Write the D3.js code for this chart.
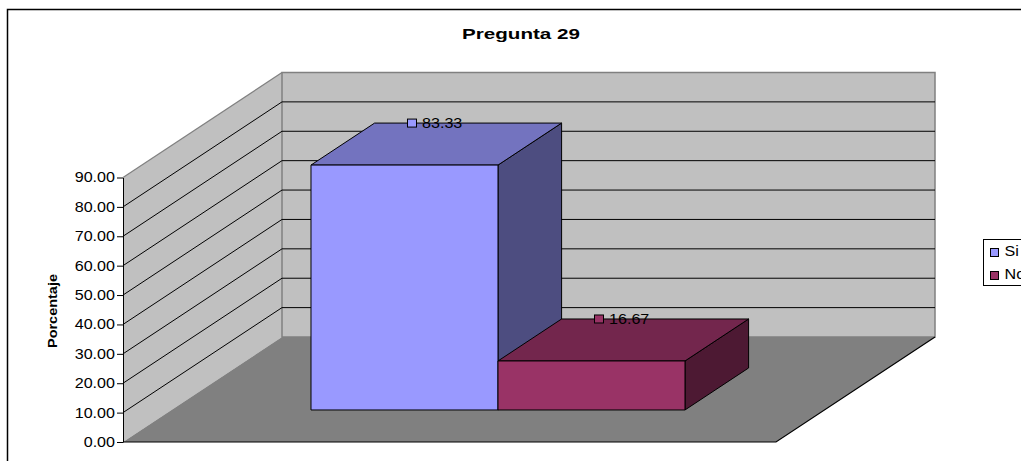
<!DOCTYPE html>
<html>
<head>
<meta charset="utf-8">
<script src="https://cdn.jsdelivr.net/npm/d3@7"></script>
<style>
  html, body { margin: 0; padding: 0; background: #fff; overflow: hidden; }
  svg { display: block; }
  text { font-family: "Liberation Sans", Arial, sans-serif; fill: #000; }
</style>
</head>
<body>
<div id="chart"></div>
<script>
const series = ['Si', 'No'];
const values = [83.33, 16.67];
const tick_values = [0, 10, 20, 30, 40, 50, 60, 70, 80, 90];
const front_colors = ['#9999ff', '#993366'];
const top_colors = ['#7373bf', '#73264d'];
const side_colors = ['#4d4d80', '#4d1933'];

const width = 1021;
const height = 461;

const svg = d3.select('#chart').append('svg')
  .attr('width', width)
  .attr('height', height);

const yscale = d3.scaleLinear().domain([0, 90]).range([442, 177.5]);
const xscale = d3.scaleBand().domain(series).range([123, 776]).paddingInner(0).paddingOuter(0.746);
const depth = { dx: 159, dy: -105 };
const bar_depth = [0.305, 0.705];

// x on the front plane, value on the y axis, t from 0 (front) to 1 (back wall)
const project = (x, v, t) => [x + depth.dx * t, yscale(v) + depth.dy * t];
const poly = pts => `M${pts.join('L')}Z`;

// the source picture was stretched sideways, so the text is too
function stretch (sel, factor) {
  sel.each(function () {
    this.setAttribute('textLength', this.getComputedTextLength() * factor);
    this.setAttribute('lengthAdjust', 'spacingAndGlyphs');
  });
}

// chart frame, runs off the right and bottom edges
svg.append('path')
  .attr('d', `M7.5,${height + 2}V9.5H${width + 2}`)
  .attr('fill', 'none')
  .attr('stroke', '#000')
  .attr('stroke-width', 1.5);

svg.append('text')
  .attr('x', 521)
  .attr('y', 39)
  .attr('text-anchor', 'middle')
  .attr('font-weight', 'bold')
  .attr('font-size', 15)
  .attr('textLength', 118)
  .attr('lengthAdjust', 'spacingAndGlyphs')
  .text('Pregunta 29');

const [x0, x1] = xscale.range();
const vmax = yscale.domain()[1];

// walls and floor
svg.append('path')
  .attr('d', poly([project(x0, 0, 0), project(x0, vmax, 0), project(x0, vmax, 1), project(x0, 0, 1)]))
  .attr('fill', '#c0c0c0');
svg.append('path')
  .attr('d', poly([project(x0, 0, 1), project(x0, vmax, 1), project(x1, vmax, 1), project(x1, 0, 1)]))
  .attr('fill', '#c0c0c0')
  .attr('stroke', '#808080')
  .attr('stroke-width', 1.5);
svg.append('path')
  .attr('d', `M${project(x0, vmax, 0)}L${project(x0, vmax, 1)}`)
  .attr('stroke', '#808080')
  .attr('stroke-width', 1.2);
svg.append('path')
  .attr('d', poly([project(x0, 0, 0), project(x1, 0, 0), project(x1, 0, 1), project(x0, 0, 1)]))
  .attr('fill', '#808080');
svg.append('path')
  .attr('d', `M${project(x0, 0, 0)}L${project(x1, 0, 0)}L${project(x1, 0, 1)}`)
  .attr('fill', 'none')
  .attr('stroke', '#000')
  .attr('stroke-width', 1.2);

// gridlines along both walls
svg.append('g').selectAll('path')
  .data(tick_values.filter(d => d > 0 && d < vmax))
  .join('path')
  .attr('d', d => `M${project(x0, d, 0)}L${project(x0, d, 1)}L${project(x1, d, 1)}`)
  .attr('fill', 'none')
  .attr('stroke', '#000')
  .attr('stroke-width', 1);

// y axis
const axis = svg.append('g')
  .attr('transform', `translate(${x0},0)`)
  .call(d3.axisLeft(yscale).tickValues(tick_values).tickFormat(d3.format('.2f')).tickSize(6).tickPadding(2).tickSizeOuter(0));
axis.select('.domain').attr('stroke', '#000').attr('stroke-width', 1);
axis.selectAll('line').attr('stroke', '#000');
axis.selectAll('text')
  .attr('font-size', 14)
  .attr('font-family', '"Liberation Sans", Arial, sans-serif')
  .attr('fill', '#000')
  .call(stretch, 1.15);

svg.append('text')
  .attr('transform', 'translate(57,311) rotate(-90)')
  .attr('text-anchor', 'middle')
  .attr('font-weight', 'bold')
  .attr('font-size', 13)
  .attr('textLength', 74)
  .attr('lengthAdjust', 'spacingAndGlyphs')
  .text('Porcentaje');

// bars
const [t0, t1] = bar_depth;
const bars = svg.append('g').selectAll('g')
  .data(series.map((name, i) => ({ name, value: values[i], i })))
  .join('g');

bars.append('path')
  .attr('d', d => {
    const r = xscale(d.name) + xscale.bandwidth();
    return poly([project(r, 0, t0), project(r, d.value, t0), project(r, d.value, t1), project(r, 0, t1)]);
  })
  .attr('fill', d => side_colors[d.i]);
bars.append('path')
  .attr('d', d => {
    const l = xscale(d.name);
    const r = l + xscale.bandwidth();
    return poly([project(l, d.value, t0), project(r, d.value, t0), project(r, d.value, t1), project(l, d.value, t1)]);
  })
  .attr('fill', d => top_colors[d.i]);
bars.append('path')
  .attr('d', d => {
    const l = xscale(d.name);
    const r = l + xscale.bandwidth();
    return poly([project(l, 0, t0), project(l, d.value, t0), project(r, d.value, t0), project(r, 0, t0)]);
  })
  .attr('fill', d => front_colors[d.i]);
bars.selectAll('path')
  .attr('stroke', '#000')
  .attr('stroke-width', 1)
  .attr('stroke-linejoin', 'round');

// value labels with their legend key
const labels = svg.append('g').selectAll('g')
  .data(series.map((name, i) => ({ name, value: values[i], i })))
  .join('g')
  .attr('transform', d => {
    const lx = project(xscale(d.name) + xscale.bandwidth() / 2, d.value, t0)[0];
    const ly = project(xscale(d.name), d.value, t1)[1];
    return `translate(${lx + 7.5},${ly})`;
  });
labels.append('rect')
  .attr('x', -4.5)
  .attr('y', -4)
  .attr('width', 9)
  .attr('height', 8)
  .attr('fill', d => front_colors[d.i])
  .attr('stroke', '#000');
labels.append('text')
  .attr('x', 10)
  .attr('y', 5)
  .attr('font-size', 14)
  .text(d => d.value.toFixed(2))
  .call(stretch, 1.15);

// legend, cut off at the right edge as in the source
const legend = svg.append('g');
legend.append('rect')
  .attr('x', 983.5)
  .attr('y', 239.5)
  .attr('width', 60)
  .attr('height', 46)
  .attr('fill', '#fff')
  .attr('stroke', '#000');
const entries = legend.selectAll('g')
  .data(series.map((name, i) => ({ name, i })))
  .join('g')
  .attr('transform', d => `translate(0,${252 + d.i * 23})`);
entries.append('rect')
  .attr('x', 990.5)
  .attr('y', -3.5)
  .attr('width', 8)
  .attr('height', 8)
  .attr('fill', d => front_colors[d.i])
  .attr('stroke', '#000');
entries.append('text')
  .attr('x', 1004.5)
  .attr('y', 4)
  .attr('font-size', 14)
  .text(d => d.name)
  .call(stretch, 1.15);
</script>
</body>
</html>
